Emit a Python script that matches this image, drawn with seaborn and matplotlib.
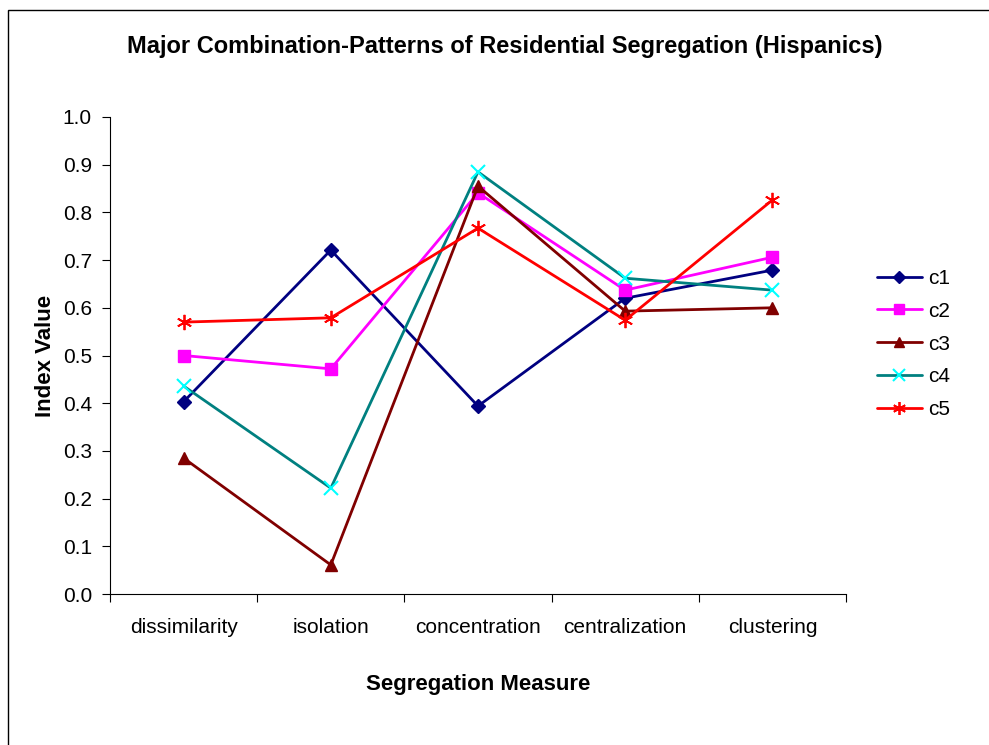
import matplotlib
matplotlib.use("Agg")
import matplotlib.pyplot as plt
import seaborn as sns
import pandas as pd
from matplotlib.patches import Rectangle
from matplotlib.lines import Line2D

measures = ["dissimilarity", "isolation", "concentration", "centralization", "clustering"]
c1 = [0.403, 0.721, 0.394, 0.620, 0.679]
c2 = [0.500, 0.472, 0.841, 0.637, 0.706]
c3 = [0.285, 0.061, 0.855, 0.593, 0.600]
c4 = [0.436, 0.222, 0.885, 0.662, 0.637]
c5 = [0.570, 0.579, 0.767, 0.574, 0.826]
series_names = ["c1", "c2", "c3", "c4", "c5"]
series_values = [c1, c2, c3, c4, c5]

sns.set_theme(style="white")
plt.rcParams["font.family"] = ["Liberation Sans", "DejaVu Sans"]
plt.rcParams["text.color"] = "black"
plt.rcParams["axes.labelcolor"] = "black"

styles = {
    "c1": dict(color="#000080", marker="D", mfc="#000080", mec="#000080", ms=7),
    "c2": dict(color="#FF00FF", marker="s", mfc="#FF00FF", mec="#FF00FF", ms=8),
    "c3": dict(color="#800000", marker="^", mfc="#800000", mec="#800000", ms=9),
    "c4": dict(color="#008080", marker="x", mfc="#00FFFF", mec="#00FFFF", ms=10, mew=1.5),
    "c5": dict(color="#FF0000", marker=(6, 2, 0), mfc="#FF0000", mec="#FF0000", ms=11, mew=1.3),
}

df = pd.DataFrame({
    "measure": measures * len(series_names),
    "value": [v for vals in series_values for v in vals],
    "series": [n for n in series_names for _ in measures],
})

fig = plt.figure(figsize=(9.89, 7.45), dpi=100)
ax = fig.add_axes([110 / 989, 1 - 594 / 745, (846 - 110) / 989, (594 - 117) / 745])

handles = []
for name in series_names:
    st = styles[name]
    sub = df[df["series"] == name]
    sns.lineplot(data=sub, x="measure", y="value", ax=ax, color=st["color"],
                 linewidth=2.0, marker=st["marker"], markersize=st["ms"],
                 markerfacecolor=st["mfc"], markeredgecolor=st["mec"],
                 markeredgewidth=st.get("mew", 1.0), legend=False, sort=False)
    handles.append(Line2D([], [], color=st["color"], linewidth=2.0, marker=st["marker"],
                          markersize=st["ms"] * 0.85, markerfacecolor=st["mfc"],
                          markeredgecolor=st["mec"], markeredgewidth=st.get("mew", 1.0)))

ax.set_xlim(-0.5, len(measures) - 0.5)
ax.set_ylim(0, 1.0)
ax.set_yticks([i / 10 for i in range(11)])
ax.set_yticklabels([f"{i / 10:.1f}" for i in range(11)], fontsize=15)
ax.set_xticks([i - 0.5 for i in range(len(measures) + 1)])
ax.set_xticklabels([])
ax.set_xticks(range(len(measures)), minor=True)
ax.set_xticklabels(measures, minor=True, fontsize=15)
ax.tick_params(axis="x", which="major", bottom=True, direction="out", length=6, width=0.8,
               color="black")
ax.tick_params(axis="x", which="minor", bottom=True, length=0, pad=17, labelcolor="black")
ax.tick_params(axis="y", left=True, direction="out", length=6, width=0.8, pad=7,
               color="black", labelcolor="black")
for s in ["top", "right"]:
    ax.spines[s].set_visible(False)
for s in ["left", "bottom"]:
    ax.spines[s].set_color("black")
    ax.spines[s].set_linewidth(0.8)

ax.set_xlabel("Segregation Measure", fontsize=16, fontweight="bold", labelpad=27)
ax.set_ylabel("Index Value", fontsize=16, fontweight="bold", labelpad=5)

fig.text(505 / 989, 1 - 47 / 745, "Major Combination-Patterns of Residential Segregation (Hispanics)",
         ha="center", va="center", fontsize=17, fontweight="bold")

fig.legend(handles, series_names, loc="center left", bbox_to_anchor=(858 / 989, 1 - 344 / 745),
           frameon=False, fontsize=15, handlelength=2.15, labelspacing=0.66, handletextpad=0.3)

# outer chart frame
fig.patches.append(Rectangle((8 / 989, -0.1), 1.2, 1 - 10 / 745 + 0.1, transform=fig.transFigure,
                             fill=False, edgecolor="black", linewidth=1.0))

fig.savefig("out.png", dpi=100, facecolor="white")
